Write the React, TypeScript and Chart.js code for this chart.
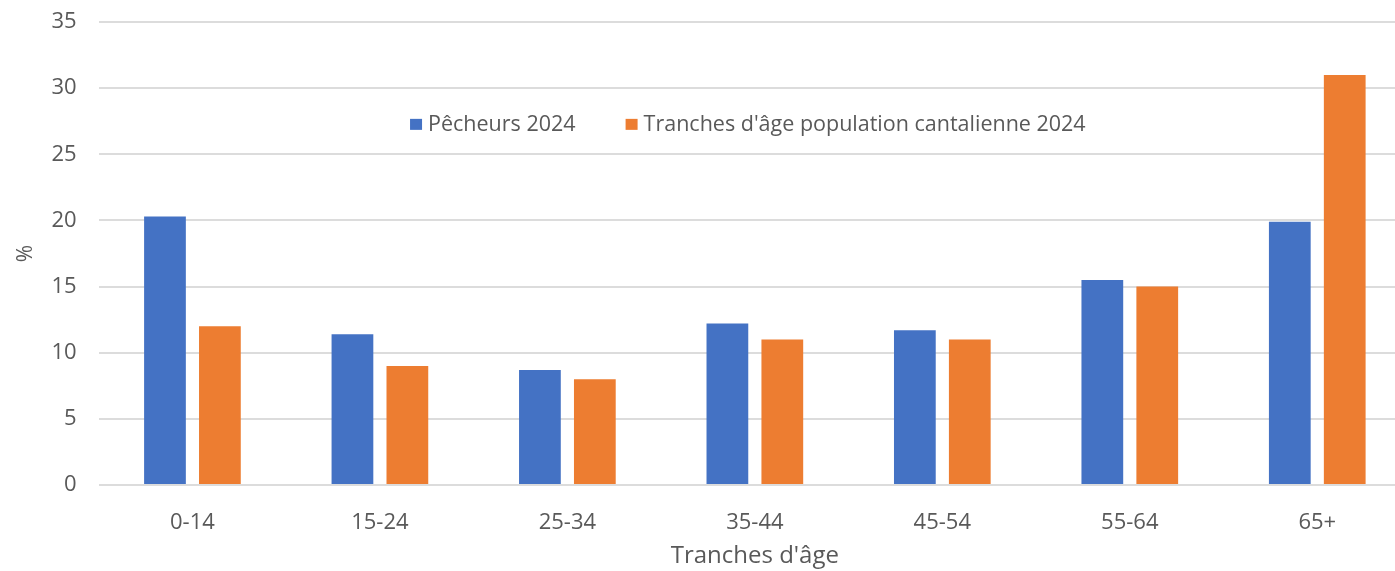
import { useEffect, useRef } from "react";
import { Chart, registerables } from "chart.js";

Chart.register(...registerables);

const categories = ["0-14", "15-24", "25-34", "35-44", "45-54", "55-64", "65+"];
const pecheurs2024 = [20.3, 11.4, 8.7, 12.2, 11.7, 15.5, 19.9];
const population2024 = [12, 9, 8, 11, 11, 15, 31];
const seriesLabels = ["Pêcheurs 2024", "Tranches d'âge population cantalienne 2024"];
const seriesColors = ["#4472C4", "#ED7D31"];
const yMin = 0;
const yMax = 35;
const yStep = 5;
const xTitle = "Tranches d'âge";
const yTitle = "%";

const FONT = "'Open Sans', 'Noto Sans', sans-serif";
const TEXT = "#595959";

const insideLegend = {
  id: "insideLegend",
  afterDatasetsDraw(chart: any) {
    const { ctx, chartArea, scales } = chart;
    ctx.save();
    ctx.font = `21.5px ${FONT}`;
    const boxW = 12;
    const boxH = 11;
    const gapText = 6;
    const gapItems = 50;
    const items = chart.data.datasets.map((ds: any) => ({
      label: ds.label,
      color: ds.backgroundColor,
      w: ctx.measureText(ds.label).width,
    }));
    const total =
      items.reduce((s: number, it: any) => s + boxW + gapText + it.w, 0) +
      gapItems * (items.length - 1);
    let x = (chartArea.left + chartArea.right) / 2 - total / 2 - 7;
    const y = scales.y.getPixelForValue(27.3);
    ctx.textBaseline = "middle";
    ctx.textAlign = "left";
    for (const it of items) {
      ctx.fillStyle = it.color;
      ctx.fillRect(x, y - 5, boxW, boxH);
      x += boxW + gapText;
      ctx.fillStyle = TEXT;
      ctx.fillText(it.label, x, y + 1);
      x += it.w + gapItems;
    }
    ctx.restore();
  },
};

export default function App() {
  const ref = useRef<HTMLCanvasElement | null>(null);

  useEffect(() => {
    document.body.style.margin = "0";
    document.body.style.overflow = "hidden";
    const canvas = ref.current;
    if (!canvas) return;
    const chart = new Chart(canvas, {
      type: "bar",
      data: {
        labels: categories,
        datasets: [
          {
            label: seriesLabels[0],
            data: pecheurs2024,
            backgroundColor: seriesColors[0],
            borderWidth: 0,
            categoryPercentage: 0.586,
            barPercentage: 0.76,
          },
          {
            label: seriesLabels[1],
            data: population2024,
            backgroundColor: seriesColors[1],
            borderWidth: 0,
            categoryPercentage: 0.586,
            barPercentage: 0.76,
          },
        ],
      },
      options: {
        responsive: false,
        animation: false,
        devicePixelRatio: 1,
        layout: { padding: { top: 22, right: 0, bottom: 0, left: 0 } },
        plugins: {
          legend: { display: false },
          tooltip: { enabled: false },
        },
        scales: {
          x: {
            grid: { display: false },
            border: { display: false },
            ticks: {
              color: TEXT,
              font: { family: FONT, size: 22 },
              padding: 17,
            },
            title: {
              display: true,
              text: xTitle,
              color: TEXT,
              font: { family: FONT, size: 24 },
              padding: { top: 0, bottom: 0 },
            },
            afterFit: (scale: any) => {
              scale.height = 86;
            },
          },
          y: {
            min: yMin,
            max: yMax,
            border: { display: false },
            grid: { color: "#dcdcdc", lineWidth: 2, drawTicks: false },
            ticks: {
              stepSize: yStep,
              color: TEXT,
              font: { family: FONT, size: 22 },
              padding: 22,
            },
            title: {
              display: true,
              text: yTitle,
              color: TEXT,
              font: { family: FONT, size: 21 },
              padding: { top: 13, bottom: 0 },
            },
            afterFit: (scale: any) => {
              scale.width = 98.7;
              scale.paddingTop = 0;
              scale.paddingBottom = 0;
            },
          },
        },
      },
      plugins: [insideLegend],
    });
    return () => chart.destroy();
  }, []);

  return (
    <canvas
      ref={ref}
      width={1411}
      height={571}
      style={{ position: "absolute", left: 0, top: 0, width: 1411, height: 571 }}
    />
  );
}
